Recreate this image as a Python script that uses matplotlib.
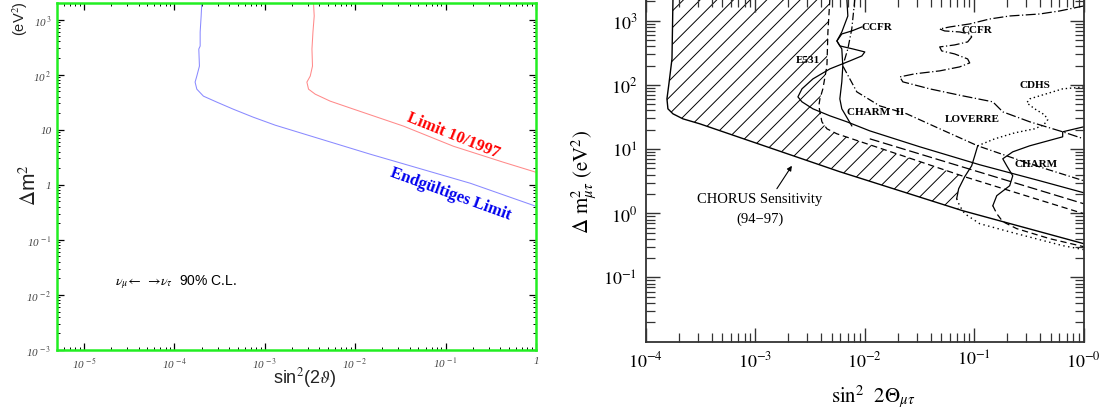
import numpy as np
import matplotlib
matplotlib.use("Agg")
import matplotlib.pyplot as plt
from matplotlib.ticker import LogLocator, FixedLocator, FixedFormatter, NullFormatter

plt.rcParams['mathtext.fontset'] = 'stix'
plt.rcParams['hatch.linewidth'] = 0.7

# ---------------- left panel: nu_mu <-> nu_tau, 90% C.L. ----------------
# curves given as log10(sin^2 2theta), log10(dm^2 / eV^2)
final_limit_log_s2 = [-3.698, -3.705, -3.716, -3.716, -3.731, -3.724, -3.753, -3.772,
                      -3.753, -3.680, -3.531, -3.351, -3.129, -2.886, -1.834, -0.726, 0.0]
final_limit_log_dm2 = [3.30, 3.064, 2.773, 2.518, 2.464, 2.155, 1.973, 1.864,
                       1.736, 1.609, 1.50, 1.373, 1.227, 1.082, 0.555, 0.027, -0.391]

limit_1997_log_s2 = [-2.462, -2.454, -2.468, -2.479, -2.473, -2.498, -2.535, -2.517,
                     -2.443, -2.277, -2.019, -1.465, -0.915, -0.361, 0.0]
limit_1997_log_dm2 = [3.30, 3.064, 2.773, 2.464, 2.155, 1.973, 1.864, 1.736,
                      1.645, 1.518, 1.373, 1.064, 0.70, 0.409, 0.227]

left_xticks = [1e-5, 1e-4, 1e-3, 1e-2, 1e-1, 1]
left_xticklabels = ["10$^{\\,-5}$", "10$^{\\,-4}$", "10$^{\\,-3}$", "10$^{\\,-2}$", "10$^{\\,-1}$", "1"]
left_yticks = [1e-3, 1e-2, 1e-1, 1, 10, 1e2, 1e3]
left_yticklabels = ["10$^{\\,-3}$", "10$^{\\,-2}$", "10$^{\\,-1}$", "1", "10", "10$^{\\,2}$", "10$^{\\,3}$"]

# ---------------- right panel: CHORUS sensitivity and earlier limits ----------------
chorus_log_s2 = [-3.751, -3.760, -3.788, -3.806, -3.797, -3.751, -3.660, -3.505,
                 -2.227, -1.105, -0.739, 0.0]
chorus_log_dm2 = [3.337, 2.404, 2.016, 1.782, 1.627, 1.549, 1.471, 1.393,
                  0.647, 0.040, -0.130, -0.473]

e531_log_s2 = [-2.318, -2.336, -2.345, -2.382, -2.409, -2.419, -2.391, -2.345,
               -2.254, -1.680, -1.087, 0.0]
e531_log_dm2 = [3.337, 2.824, 2.296, 1.938, 1.782, 1.673, 1.425, 1.316,
                1.238, 0.911, 0.569, -0.006]

band_dashed_log_s2 = [-1.954, 0.0]
band_dashed_log_dm2 = [1.160, 0.149]

ccfr_low_log_s2 = [-2.026, -2.118, -2.209, -2.254, -2.227, -2.109, -1.999, -2.026,
                   -2.136, -2.318, -2.473, -2.573, -2.610, -2.573, -2.473, -2.318,
                   -2.163, -1.954, -1.498, -0.950, -0.402, 0.0]
ccfr_low_log_dm2 = [2.902, 2.840, 2.793, 2.684, 2.607, 2.560, 2.513, 2.451,
                    2.373, 2.249, 2.093, 1.938, 1.813, 1.736, 1.627, 1.518,
                    1.425, 1.284, 1.036, 0.756, 0.507, 0.320]

ccfr_edge_log_s2 = [-2.163, -2.154, -2.209, -2.254, -2.209, -2.200, -2.209, -2.227, -2.209, -2.118]
ccfr_edge_log_dm2 = [3.337, 3.073, 2.824, 2.684, 2.560, 2.296, 2.047, 1.782, 1.627, 1.362]

charm2_log_s2 = [-2.090, -2.118, -2.154, -2.200, -2.072, -1.863, -1.616, -1.315, -0.968, -0.493, 0.0]
charm2_log_dm2 = [3.337, 2.871, 2.560, 2.296, 1.891, 1.673, 1.549, 1.316, 1.051, 0.771, 0.507]

ccfr_high_log_s2 = [0.0, -0.220, -0.402, -0.676, -0.859, -1.041, -1.224, -1.315, -1.270,
                    -1.133, -1.041, -1.023, -1.060, -1.179, -1.315, -1.297, -1.179, -1.060,
                    -1.041, -1.133, -1.315, -1.543, -1.680, -1.652, -1.406, -1.105, -0.830,
                    -0.739, -0.493, -0.192, 0.0]
ccfr_high_log_dm2 = [3.229, 3.151, 3.104, 3.073, 3.026, 2.949, 2.902, 2.871, 2.840,
                     2.824, 2.793, 2.747, 2.669, 2.622, 2.591, 2.529, 2.482, 2.404,
                     2.342, 2.280, 2.218, 2.172, 2.124, 2.047, 1.938, 1.829, 1.736,
                     1.580, 1.425, 1.269, 1.160]

charm_log_s2 = [0.0, -0.192, -0.192, -0.493, -0.648, -0.739, -0.703, -0.648, -0.676, -0.794, -0.830]
charm_log_dm2 = [1.347, 1.269, 1.191, 1.051, 0.957, 0.849, 0.740, 0.584, 0.429, 0.274, 0.118]
charm_tail_log_s2 = [-0.830, -0.794, -0.739, -0.612, -0.311, 0.0]
charm_tail_log_dm2 = [0.118, -0.006, -0.130, -0.239, -0.395, -0.520]

cdhs_log_s2 = [0.0, -0.192, -0.493, -0.520, -0.448, -0.356, -0.329, -0.365, -0.448, -0.630, -0.812, -0.968]
cdhs_log_dm2 = [1.967, 1.938, 1.782, 1.720, 1.627, 1.532, 1.456, 1.378, 1.316, 1.253, 1.160, 1.051]

loverre_log_s2 = [-0.968, -0.995, -1.023, -1.087, -1.142, -1.160]
loverre_log_dm2 = [1.051, 0.896, 0.740, 0.569, 0.382, 0.227]
loverre_tail_log_s2 = [-1.160, -1.133, -1.087, -0.950, -0.648, -0.192, 0.0]
loverre_tail_log_dm2 = [0.227, 0.118, -0.006, -0.162, -0.302, -0.504, -0.566]

right_xticks = [1e-4, 1e-3, 1e-2, 1e-1, 1]
right_xticklabels = ["$10^{-4}$", "$10^{-3}$", "$10^{-2}$", "$10^{-1}$", "$10^{-0}$"]
right_yticks = [1e-1, 1, 10, 1e2, 1e3]
right_yticklabels = ["$10^{-1}$", "$10^{0}$", "$10^{1}$", "$10^{2}$", "$10^{3}$"]

experiment_labels = ["CCFR", "CCFR", "E531", "CHARM  II", "LOVERRE", "CDHS", "CHARM"]
experiment_label_log_s2 = [-1.890, -0.977, -2.519, -1.899, -1.014, -0.448, -0.439]
experiment_label_log_dm2 = [2.902, 2.855, 2.389, 1.580, 1.471, 2.000, 0.771]


def p(vals):
    return 10.0 ** np.asarray(vals)


W, H = 1113, 414
fig = plt.figure(figsize=(W / 100, H / 100), dpi=100)

# ======================= left panel =======================
axL = fig.add_axes([57 / W, 1 - 351 / H, 479 / W, 347 / H])
axL.set_xscale('log')
axL.set_yscale('log')
axL.set_xlim(10 ** -5.3, 1)
axL.set_ylim(1e-3, 10 ** 3.3)

axL.plot(p(final_limit_log_s2), p(final_limit_log_dm2), color='#8a8aff', lw=0.75)
axL.plot(p(limit_1997_log_s2), p(limit_1997_log_dm2), color='#ff8a8a', lw=0.75)

for s in axL.spines.values():
    s.set_color('#22ee22')
    s.set_linewidth(1.8)

axL.xaxis.set_major_locator(FixedLocator(left_xticks))
axL.xaxis.set_major_formatter(FixedFormatter(left_xticklabels))
axL.yaxis.set_major_locator(FixedLocator(left_yticks))
axL.yaxis.set_major_formatter(FixedFormatter(left_yticklabels))
for a in (axL.xaxis, axL.yaxis):
    a.set_minor_locator(LogLocator(base=10, subs=np.arange(2, 10), numticks=30))
    a.set_minor_formatter(NullFormatter())
axL.tick_params(which='both', direction='in', top=True, right=True, color='black')
axL.tick_params(which='major', length=5, width=0.9, labelsize=8, labelcolor='#444444', pad=4)
axL.tick_params(which='minor', length=2.5, width=0.7)
for lab in axL.get_xticklabels() + axL.get_yticklabels():
    lab.set_fontfamily('Liberation Serif')
    lab.set_fontstyle('italic')

axL.text(10 ** -0.915, 10 ** 0.90, "Limit 10/1997", color='#ff0000', fontsize=12,
         fontweight='bold', family='Liberation Serif', rotation=-22,
         ha='center', va='center', rotation_mode='anchor')
axL.text(10 ** -0.948, 10 ** -0.155, "Endgültiges Limit", color='#0000ee', fontsize=12,
         fontweight='bold', family='Liberation Serif', rotation=-20,
         ha='center', va='center', rotation_mode='anchor')
axL.text(10 ** -4.658, 10 ** -1.755, r"$\nu_\mu\!\leftarrow\;\rightarrow\!\nu_\tau$  90% C.L.",
         fontsize=10, family='Liberation Sans', ha='left', va='center')

fig.text(29 / W, 1 - 185 / H, r"$\Delta$m$^2$", rotation=90, fontsize=15,
         family='Liberation Sans', ha='center', va='center', color='#222222')
fig.text(20 / W, 1 - 19 / H, "(eV$^2$)", rotation=90, fontsize=10.5,
         family='Liberation Sans', ha='center', va='center', color='#222222')
fig.text(305 / W, 1 - 378 / H, r"sin$^2$(2$\vartheta$)", fontsize=13,
         family='Liberation Sans', ha='center', va='center', color='#222222')

# ======================= right panel =======================
axR = fig.add_axes([645.7 / W, 1 - 342.7 / H, 438 / W, 343.7 / H])
axR.set_xscale('log')
axR.set_yscale('log')
axR.set_xlim(1e-4, 1)
axR.set_ylim(1e-2, 10 ** 3.353)

# region newly covered by CHORUS: between its sensitivity curve and earlier limits
hatch_s2 = chorus_log_s2[:9] + [-1.142, -1.160, -1.142, -1.087] + e531_log_s2[9::-1]
hatch_dm2 = chorus_log_dm2[:9] + [0.056, 0.227, 0.382, 0.569] + e531_log_dm2[9::-1]
axR.fill(p(hatch_s2), p(hatch_dm2), facecolor='none', edgecolor='black',
         hatch='//', linewidth=0)

k = 'black'
axR.plot(p(chorus_log_s2), p(chorus_log_dm2), color=k, lw=1.0)
axR.plot(p(e531_log_s2), p(e531_log_dm2), color=k, lw=0.9, ls=(0, (5, 3)))
axR.plot(p(band_dashed_log_s2), p(band_dashed_log_dm2), color=k, lw=0.9, ls=(0, (8, 3)))
axR.plot(p(ccfr_low_log_s2), p(ccfr_low_log_dm2), color=k, lw=0.9)
axR.plot(p(ccfr_edge_log_s2), p(ccfr_edge_log_dm2), color=k, lw=0.9)
axR.plot(p(charm2_log_s2), p(charm2_log_dm2), color=k, lw=0.9, ls=(0, (6, 2, 1, 2)))
axR.plot(p(ccfr_high_log_s2), p(ccfr_high_log_dm2), color=k, lw=0.9, ls=(0, (8, 2, 1, 2)))
axR.plot(p(charm_log_s2), p(charm_log_dm2), color=k, lw=0.9)
axR.plot(p(charm_tail_log_s2), p(charm_tail_log_dm2), color=k, lw=0.9, ls=(0, (5, 3)))
axR.plot(p(cdhs_log_s2), p(cdhs_log_dm2), color=k, lw=1.0, ls=(0, (1, 2)))
axR.plot(p(loverre_log_s2), p(loverre_log_dm2), color=k, lw=0.9)
axR.plot(p(loverre_tail_log_s2), p(loverre_tail_log_dm2), color=k, lw=1.0, ls=(0, (1, 2.5)))

for name, lx, ly in zip(experiment_labels, experiment_label_log_s2, experiment_label_log_dm2):
    axR.text(10 ** lx, 10 ** ly, name, fontsize=8, fontweight='bold',
             family='Liberation Serif', ha='center', va='center')

axR.text(10 ** -2.957, 10 ** 0.227, "CHORUS Sensitivity", fontsize=10.5,
         family='Liberation Serif', ha='center', va='center')
axR.text(10 ** -2.957, 10 ** -0.084, "(94\u221297)", fontsize=10.5,
         family='Liberation Serif', ha='center', va='center')
axR.annotate('', xy=(10 ** -2.665, 10 ** 0.740), xytext=(10 ** -2.802, 10 ** 0.383),
             arrowprops=dict(arrowstyle='-|>', lw=0.8, color='k', mutation_scale=7,
                             shrinkA=0, shrinkB=0))

for s in axR.spines.values():
    s.set_color('#333333')
    s.set_linewidth(1.3)
axR.xaxis.set_major_locator(FixedLocator(right_xticks))
axR.xaxis.set_major_formatter(FixedFormatter(right_xticklabels))
axR.yaxis.set_major_locator(FixedLocator(right_yticks))
axR.yaxis.set_major_formatter(FixedFormatter(right_yticklabels))
for a in (axR.xaxis, axR.yaxis):
    a.set_minor_locator(LogLocator(base=10, subs=np.arange(2, 10), numticks=30))
    a.set_minor_formatter(NullFormatter())
axR.tick_params(which='both', direction='in', top=True, right=True, color='#333333')
axR.tick_params(which='major', length=10, width=1.0, labelsize=13, pad=6)
axR.tick_params(which='minor', length=6.5, width=0.9)

fig.text(585 / W, 1 - 182 / H, r"$\Delta\ \mathrm{m}^{2}_{\mu\tau}\ (\mathrm{eV}^{2})$",
         rotation=90, fontsize=15, ha='center', va='center')
fig.text(873 / W, 1 - 397 / H, r"$\mathrm{sin}^{2}\ \ 2\Theta_{\mu\tau}$",
         fontsize=15, ha='center', va='center')

fig.savefig("out.png", dpi=100)
